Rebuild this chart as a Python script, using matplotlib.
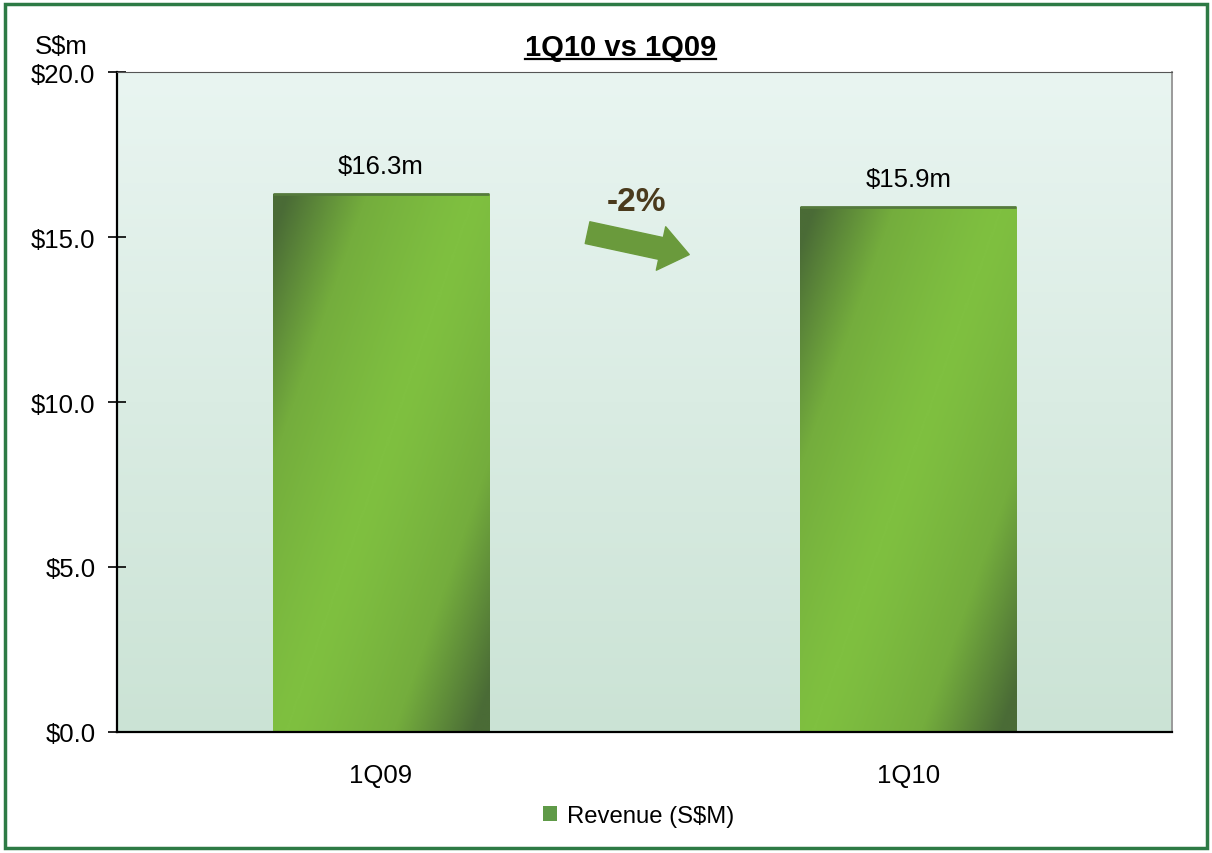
import numpy as np
import matplotlib.pyplot as plt
from matplotlib.colors import LinearSegmentedColormap
from matplotlib.patches import Patch, FancyArrowPatch, Rectangle

plt.rcParams['font.family'] = ['Liberation Sans', 'DejaVu Sans']

quarters = ['1Q09', '1Q10']
revenue = [16.3, 15.9]
yticks = [0, 5, 10, 15, 20]
change_label = '-2%'

fig = plt.figure(figsize=(12.12, 8.54), dpi=100)
ax = fig.add_axes([0.0965, 0.1417, 0.8705, 0.7728])

x = np.arange(len(quarters))
ax.set_xlim(-0.5, 1.5)
ax.set_ylim(0, 20)

# soft mint background for the plot area
bg_cmap = LinearSegmentedColormap.from_list('bg', ['#cbe3d5', '#e9f5f1'])
bg = np.linspace(0, 1, 256).reshape(-1, 1)
ax.imshow(bg, cmap=bg_cmap, extent=(-0.5, 1.5, 0, 20), origin='lower',
          aspect='auto', zorder=0)

# bars with a diagonal shading, dark towards two corners
bar_cmap = LinearSegmentedColormap.from_list('bar', ['#7fc040', '#74ad3d', '#4a6b36'])
bars = ax.bar(x, revenue, width=0.41, color='none', zorder=2)
u = np.linspace(0, 1, 200)
v = np.linspace(0, 1, 200)
U, V = np.meshgrid(u, v)
shade = np.clip(np.abs(1.15 * U + (1 - V) - 1.07), 0, 1) ** 1.25
for b in bars:
    x0, w, h = b.get_x(), b.get_width(), b.get_height()
    im = ax.imshow(shade, cmap=bar_cmap, vmin=0, vmax=1, origin='lower',
                   extent=(x0, x0 + w, 0, h), aspect='auto', zorder=2)
    im.set_clip_path(b)
    ax.plot([x0, x0 + w], [h, h], color='#557a3c', lw=2, zorder=3,
            solid_capstyle='butt')

for xi, val in zip(x, revenue):
    ax.text(xi, val + 0.5, f'${val:.1f}m', ha='center', va='bottom', fontsize=18.5)

# change arrow between the two quarters
arrow = FancyArrowPatch((0.387, 15.15), (0.59, 14.45),
                        arrowstyle='simple,head_length=1.3,head_width=2.0,tail_width=1.0',
                        mutation_scale=16, color='#6a9a3c', zorder=3)
ax.add_patch(arrow)
ax.text(0.484, 15.6, change_label, ha='center', va='bottom', fontsize=24,
        fontweight='bold', color='#4a3a1c')

ax.set_xticks(x)
ax.set_xticklabels(quarters, fontsize=18.5)
ax.tick_params(axis='x', length=0, pad=22)
ax.set_yticks(yticks)
ax.set_yticklabels([f'${t:.1f}' for t in yticks], fontsize=18.5)
ax.tick_params(axis='y', direction='inout', length=13, width=1.2, pad=9)

ax.spines['left'].set_linewidth(1.6)
ax.spines['bottom'].set_linewidth(1.6)
ax.spines['top'].set_color('#555555')
ax.spines['right'].set_color('#9a9a9a')
ax.spines['right'].set_linewidth(1.4)

fig.text(0.029, 0.945, 'S$m', fontsize=18.5, va='center', ha='left')
title = fig.text(0.512, 0.944, '1Q10 vs 1Q09', fontsize=21, fontweight='bold',
                 ha='center', va='center')
fig.canvas.draw()
bb = title.get_window_extent().transformed(fig.transFigure.inverted())
fig.add_artist(plt.Line2D([bb.x0, bb.x1], [bb.y0 + 0.002, bb.y0 + 0.002],
                          color='black', lw=1.6, transform=fig.transFigure))

fig.legend(handles=[Patch(facecolor='#5f9a48', edgecolor='none', label='Revenue (S$M)')],
           loc='center', bbox_to_anchor=(0.527, 0.043), frameon=False, fontsize=17.2,
           handlelength=0.6, handleheight=0.6, handletextpad=0.4)

# green frame round the whole chart
fig.add_artist(Rectangle((0.004, 0.006), 0.992, 0.988, transform=fig.transFigure,
                         fill=False, edgecolor='#2d7a45', lw=2.5))

fig.savefig('out.png', dpi=100)
